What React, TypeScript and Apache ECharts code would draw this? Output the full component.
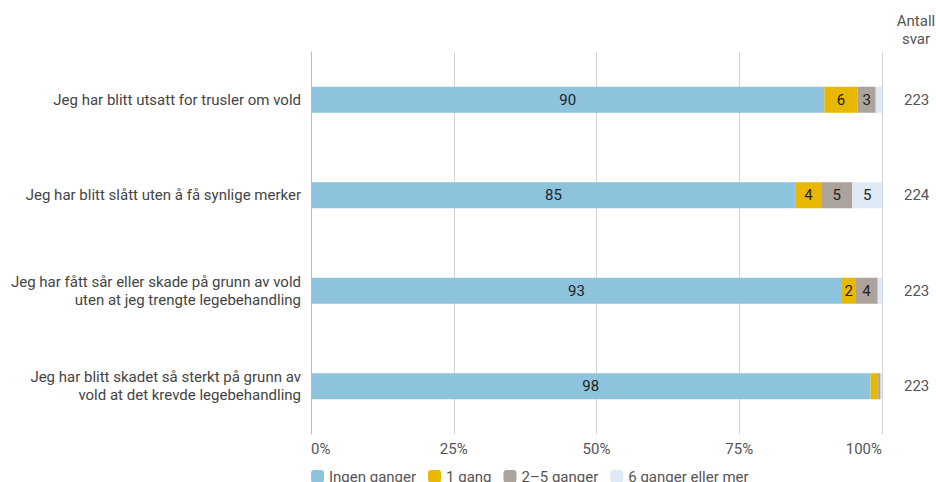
import React, { useEffect, useRef } from "react";
import * as echarts from "echarts";

const categories = [
  "Jeg har blitt utsatt for trusler om vold",
  "Jeg har blitt slått uten å få synlige merker",
  "Jeg har fått sår eller skade på grunn av vold\nuten at jeg trengte legebehandling",
  "Jeg har blitt skadet så sterkt på grunn av\nvold at det krevde legebehandling",
];
const seriesNames = ["Ingen ganger", "1 gang", "2–5 ganger", "6 ganger eller mer"];
const ingen = [89.9, 84.9, 93.0, 98.0];
const enGang = [5.85, 4.45, 2.3, 1.33];
const toFem = [3.15, 5.45, 3.95, 0.42];
const seksPluss = [1.1, 5.2, 0.75, 0.25];
const antallSvar = ["223", "224", "223", "223"];
const xTicks = [0, 25, 50, 75, 100];
const colors = ["#8ec3de", "#e8b800", "#aba39c", "#deeaf6"];

export default function App() {
  const ref = useRef<HTMLDivElement>(null);
  useEffect(() => {
    document.body.style.margin = "0";
    if (!ref.current) return;
    const chart = echarts.init(ref.current, undefined, { renderer: "svg" });
    const values = [ingen, enGang, toFem, seksPluss];
    const font = "Roboto";
    chart.setOption({
      animation: false,
      textStyle: { fontFamily: font },
      grid: { left: 311, right: 54, top: 52, bottom: 48, containLabel: false },
      legend: {
        data: seriesNames,
        left: 306,
        top: 464,
        itemWidth: 13,
        itemHeight: 13,
        itemGap: 12,
        icon: "roundRect",
        textStyle: { fontFamily: font, fontSize: 15, color: "#555" },
      },
      graphic: [
        {
          type: "text",
          x: 916,
          y: 12,
          style: {
            text: "Antall\nsvar",
            fontFamily: font,
            fontSize: 15,
            fill: "#555",
            align: "center",
            lineHeight: 18,
          },
        },
      ],
      xAxis: {
        type: "value",
        min: 0,
        max: 100,
        interval: 25,
        axisLine: { show: false },
        axisTick: { show: false },
        splitLine: { show: true, lineStyle: { color: "#d4d4d4", width: 1 } },
        axisLabel: {
          formatter: (v: number) => (xTicks.includes(v) ? v + "%" : ""),
          fontFamily: font,
          fontSize: 15,
          color: "#555",
          margin: 7,
          alignMinLabel: "left",
          alignMaxLabel: "right",
        },
      },
      yAxis: [
        {
          type: "category",
          data: categories,
          inverse: true,
          axisLine: { show: true, lineStyle: { color: "#bdbdbd" } },
          axisTick: { show: false },
          axisLabel: {
            fontFamily: font,
            fontSize: 15,
            color: "#444",
            margin: 10,
            lineHeight: 18,
            align: "right",
          },
        },
        {
          type: "category",
          data: antallSvar,
          inverse: true,
          position: "right",
          axisLine: { show: false },
          axisTick: { show: false },
          axisLabel: {
            fontFamily: font,
            fontSize: 15,
            color: "#555",
            margin: 22,
            align: "left",
          },
        },
      ],
      series: seriesNames.map((name, i) => ({
        name,
        type: "bar",
        stack: "total",
        barWidth: 26,
        yAxisIndex: 0,
        data: values[i],
        itemStyle: { color: colors[i] },
        label: {
          show: true,
          position: "inside",
          fontFamily: font,
          fontSize: 15,
          color: "#222",
          formatter: (p: any) => {
            const r = Math.round(p.value);
            return r >= 2 ? String(r) : "";
          },
        },
      })),
    });
    return () => chart.dispose();
  }, []);
  return <div ref={ref} style={{ width: 936, height: 482 }} />;
}
